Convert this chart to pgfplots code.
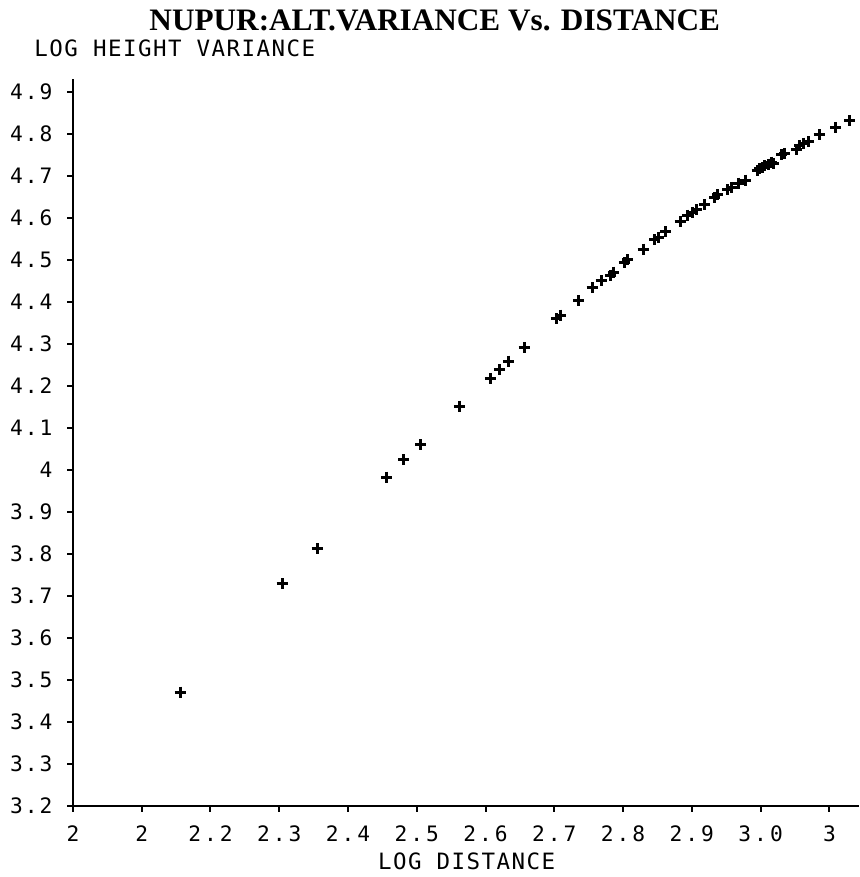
\documentclass[border=0pt]{standalone}
\usepackage{fontspec}
\setmainfont{Liberation Serif}
\setmonofont{DejaVu Sans Mono}
\newfontfamily\plotlbl{DejaVu Sans Mono}[LetterSpace=6.5]
\newfontfamily\plotxtick{DejaVu Sans Mono}[LetterSpace=14]
\newfontfamily\plotytick{DejaVu Sans Mono}[LetterSpace=9]
\usepackage{pgfplots}
\pgfplotsset{compat=1.18}

\begin{document}
\begin{tikzpicture}
\begin{axis}[%
width=314.4pt,
height=290.8pt,
scale only axis,
clip=false,
axis x line=bottom,
axis y line=left,
axis line style={-, line width=1.1pt},
xmin=2, xmax=3.1424,
ymin=3.2, ymax=4.93,
xtick={2,2.1,2.2,2.3,2.4,2.5,2.6,2.7,2.8,2.9,3.0,3.1},
xticklabels={2,2,2.2,2.3,2.4,2.5,2.6,2.7,2.8,2.9,3.0,3},
ytick={3.2,3.3,3.4,3.5,3.6,3.7,3.8,3.9,4,4.1,4.2,4.3,4.4,4.5,4.6,4.7,4.8,4.9},
yticklabels={3.2,3.3,3.4,3.5,3.6,3.7,3.8,3.9,4,4.1,4.2,4.3,4.4,4.5,4.6,4.7,4.8,4.9},
tick align=outside,
major tick length=2.2pt,
tick style={black, line width=0.8pt},
xticklabel style={font=\plotxtick\fontsize{8.5}{10}\selectfont, yshift=-2pt},
yticklabel style={font=\plotytick\fontsize{8.5}{10}\selectfont, xshift=-2.5pt},
title={NUPUR:ALT.VARIANCE Vs. DISTANCE},
every axis title/.style={at={(rel axis cs:0.4606,1.0812)}, anchor=center, inner sep=0pt,
  font=\fontsize{12.5}{14}\selectfont\bfseries},
xlabel={LOG DISTANCE},
ylabel={LOG HEIGHT VARIANCE},
every axis x label/.style={at={(rel axis cs:0.501,-0.0757)}, anchor=center,
  inner sep=0pt, font=\plotlbl\fontsize{9}{10}\selectfont},
every axis y label/.style={at={(rel axis cs:-0.0496,1.0433)}, anchor=west,
  inner sep=0pt, font=\plotlbl\fontsize{9}{10}\selectfont},
]
% keep the page the size of the scan
\path (axis cs:1.8939,3.031) rectangle (axis cs:3.1424,5.119);

\addplot [only marks, mark=+, mark size=2.2pt, mark options={line width=1.2pt}, black]
  table[row sep=crcr]{
2.156 3.471\\
2.304 3.729\\
2.355 3.812\\
2.456 3.983\\
2.481 4.024\\
2.506 4.060\\
2.562 4.152\\
2.607 4.218\\
2.620 4.239\\
2.633 4.259\\
2.656 4.291\\
2.703 4.360\\
2.709 4.369\\
2.735 4.403\\
2.755 4.434\\
2.768 4.451\\
2.781 4.464\\
2.786 4.471\\
2.802 4.493\\
2.807 4.501\\
2.829 4.526\\
2.846 4.548\\
2.851 4.554\\
2.862 4.567\\
2.883 4.592\\
2.894 4.607\\
2.901 4.613\\
2.907 4.620\\
2.919 4.631\\
2.933 4.649\\
2.937 4.655\\
2.952 4.667\\
2.957 4.673\\
2.968 4.683\\
2.978 4.690\\
2.995 4.714\\
2.999 4.718\\
3.003 4.720\\
3.006 4.724\\
3.011 4.728\\
3.016 4.733\\
3.018 4.730\\
3.031 4.750\\
3.035 4.754\\
3.052 4.764\\
3.057 4.772\\
3.062 4.778\\
3.069 4.782\\
3.085 4.798\\
3.109 4.816\\
3.129 4.832\\
};
\end{axis}
\end{tikzpicture}
\end{document}
